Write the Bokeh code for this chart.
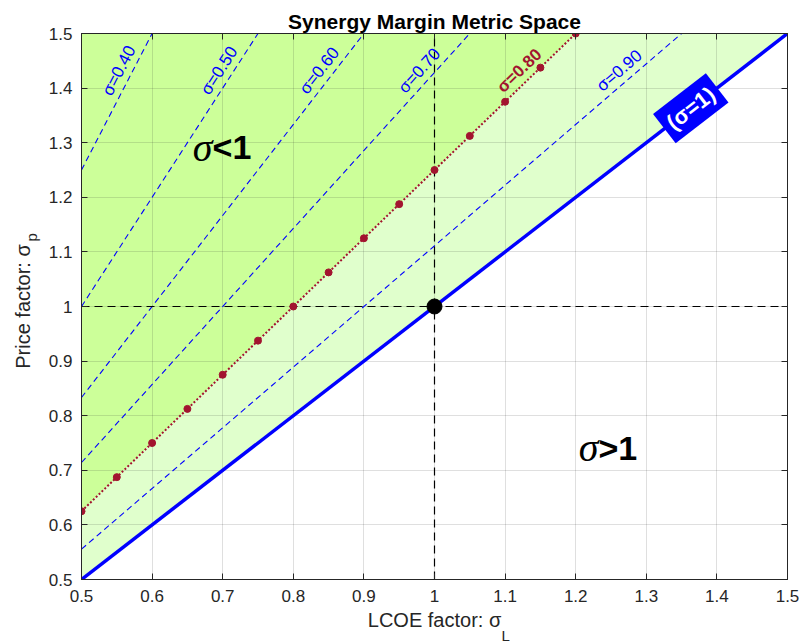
import math
import numpy as np
from bokeh.plotting import figure
from bokeh.models import Range1d, Label, FixedTicker, LinearAxis, CustomJSTickFormatter, Title
from bokeh.embed import file_html
from bokeh.resources import INLINE

# ---------------- data ----------------
sigma_levels = [0.4, 0.5, 0.6, 0.7, 0.8, 0.9]
sigma_level_labels = ["σ=0.40", "σ=0.50", "σ=0.60", "σ=0.70", "σ=0.80", "σ=0.90"]
sigma_highlight = 0.8
sigma_parity = 1.0
L_limits = [0.5, 1.5]
p_limits = [0.5, 1.5]
marker_L = [0.5, 0.55, 0.6, 0.65, 0.7, 0.75, 0.8, 0.85, 0.9, 0.95,
            1.0, 1.05, 1.1, 1.15, 1.2]
ref_point_L = [1.0]
ref_point_p = [1.0]
x_ticks = [0.5, 0.6, 0.7, 0.8, 0.9, 1.0, 1.1, 1.2, 1.3, 1.4, 1.5]
x_tick_labels = ["0.5", "0.6", "0.7", "0.8", "0.9", "1", "1.1", "1.2", "1.3", "1.4", "1.5"]
y_ticks = [0.5, 0.6, 0.7, 0.8, 0.9, 1.0, 1.1, 1.2, 1.3, 1.4, 1.5]
y_tick_labels = ["0.5", "0.6", "0.7", "0.8", "0.9", "1", "1.1", "1.2", "1.3", "1.4", "1.5"]

# ---------------- layout ----------------
W, H = 800, 643
BL, BR, BT, BB = 81, 13, 33, 64
FW, FH = W - BL - BR, H - BT - BB

SANS = "Liberation Sans"
SERIF = "Liberation Serif"
AXC = "#262626"

p = figure(width=W, height=H,
           x_range=Range1d(L_limits[0], L_limits[1]),
           y_range=Range1d(p_limits[0], p_limits[1]),
           output_backend="svg", toolbar_location=None,
           min_border_left=BL, min_border_right=BR,
           min_border_top=BT, min_border_bottom=BB,
           background_fill_color="white", border_fill_color="white")
p.title = Title(text="Synergy Margin Metric Space", align="center",
                text_font=SANS, text_font_size="21px", text_font_style="bold",
                text_color="black", standoff=2)
p.outline_line_color = AXC
p.outline_line_width = 1

xt = FixedTicker(ticks=x_ticks)
yt = FixedTicker(ticks=y_ticks)
p.xaxis.ticker = xt
p.yaxis.ticker = yt
p.xaxis.major_label_overrides = dict(zip(x_ticks, x_tick_labels))
p.yaxis.major_label_overrides = dict(zip(y_ticks, y_tick_labels))
for ax in (p.xaxis[0], p.yaxis[0]):
    ax.major_tick_in = 6
    ax.major_tick_out = 0
    ax.minor_tick_in = 0
    ax.minor_tick_out = 0
    ax.axis_line_color = AXC
    ax.major_tick_line_color = AXC
    ax.major_label_text_color = AXC
    ax.major_label_text_font = SANS
    ax.major_label_text_font_size = "17px"
    ax.axis_label_text_font = SANS
    ax.axis_label_text_font_size = "20px"
    ax.axis_label_text_font_style = "normal"
    ax.axis_label_text_color = AXC
p.xaxis[0].major_label_standoff = 10
p.yaxis[0].major_label_standoff = 9
p.yaxis[0].axis_label = "Price factor: σ"
p.yaxis[0].axis_label_standoff = 12

empty_fmt = CustomJSTickFormatter(code="return '';")
for loc, tk in (("right", yt), ("above", xt)):
    ax = LinearAxis(ticker=tk, formatter=empty_fmt)
    ax.major_tick_in = 6
    ax.major_tick_out = 0
    ax.minor_tick_in = 0
    ax.minor_tick_out = 0
    ax.major_label_standoff = 0
    ax.major_label_text_font_size = "1px"
    ax.axis_line_color = AXC
    ax.major_tick_line_color = AXC
    p.add_layout(ax, loc)

# x-axis label and its subscript as stacked bottom titles
p.add_layout(Title(text="LCOE factor: σ", align="center", standoff=4, vertical_align="bottom",
                   text_font=SANS, text_font_size="20px", text_font_style="normal",
                   text_color=AXC), "below")
p.add_layout(Title(text="L", align="left", offset=420, standoff=-16, vertical_align="bottom",
                   text_font=SANS, text_font_size="15px", text_font_style="normal",
                   text_color=AXC), "below")
# y-axis label subscript
p.add_layout(Title(text="p", align="left", offset=338, standoff=-62, vertical_align="bottom",
                   text_font=SANS, text_font_size="15px", text_font_style="normal",
                   text_color=AXC), "left")

p.xgrid.ticker = xt
p.ygrid.ticker = yt
p.grid.grid_line_color = AXC
p.grid.grid_line_alpha = 0.15
p.grid.grid_line_width = 1


def line_end(sig):
    """Clip p = L/sigma to the plotting box."""
    L0 = L_limits[0]
    L1 = min(L_limits[1], p_limits[1] * sig)
    return L0, L1


# ---------------- shaded regions ----------------
h0, h1 = line_end(sigma_highlight)
u0, u1 = line_end(sigma_parity)
dark_x = [h0, h1, L_limits[0]]
dark_y = [h0 / sigma_highlight, h1 / sigma_highlight, p_limits[1]]
light_x = [u0, u1, h1, h0]
light_y = [u0 / sigma_parity, u1 / sigma_parity, h1 / sigma_highlight, h0 / sigma_highlight]
p.patch(dark_x, dark_y, fill_color="#CCFF99", line_color=None, level="image")
p.patch(light_x, light_y, fill_color="#E0FFCC", line_color=None, level="image")

# ---------------- iso-sigma lines ----------------
for s in sigma_levels:
    if s == sigma_highlight:
        continue
    a, b = line_end(s)
    p.line([a, b], [a / s, b / s], line_color="#0000FF", line_width=1.1, line_dash="6 4")

# reference cross lines
p.line([ref_point_L[0], ref_point_L[0]], p_limits, line_color="black", line_width=1.2, line_dash="8 5")
p.line(L_limits, [ref_point_p[0], ref_point_p[0]], line_color="black", line_width=1.2, line_dash="8 5")

# parity line sigma = 1
p.line([u0, u1], [u0 / sigma_parity, u1 / sigma_parity], line_color="#0000FF", line_width=3.5)

# highlighted sigma = 0.8
DR = "#A2142F"
p.line([h0, h1], [h0 / sigma_highlight, h1 / sigma_highlight], line_color=DR, line_width=2, line_dash="2 2")
mk_L = np.array(marker_L)
p.scatter(mk_L, mk_L / sigma_highlight, size=7, fill_color=DR, line_color=DR)

# reference point
p.scatter(ref_point_L, ref_point_p, size=15, fill_color="black", line_color="black")

# ---------------- line labels ----------------
y_lab = 1.432
d_perp = 12.5
for s, txt in zip(sigma_levels, sigma_level_labels):
    th = math.atan((FH / FW) / s)
    h = d_perp / math.sin(th)
    hl = (s == sigma_highlight)
    p.add_layout(Label(x=y_lab * s, y=y_lab, x_offset=-h, y_offset=0, text=txt,
                       angle=th, text_align="center", text_baseline="middle",
                       text_font=SANS, text_font_size="17px",
                       text_font_style="bold" if hl else "normal",
                       text_color=DR if hl else "#0000FF"))

th1 = math.atan((FH / FW) / sigma_parity)
y_par = 1.363
p.add_layout(Label(x=y_par * sigma_parity, y=y_par, text="(σ=1)", angle=th1,
                   text_align="center", text_baseline="middle",
                   text_font=SANS, text_font_size="22px", text_font_style="bold",
                   text_color="white", background_fill_color="#0000FF",
                   padding=6))

# region labels
for xa, ya, op in ((0.6856, 1.273, "<1"), (1.2323, 0.7234, ">1")):
    p.add_layout(Label(x=xa, y=ya, y_offset=10, text="σ", text_align="right",
                       text_baseline="alphabetic",
                       text_font=SERIF, text_font_style="italic", text_font_size="40px",
                       text_color="black"))
    p.add_layout(Label(x=xa, y=ya, y_offset=10, text=op, text_align="left",
                       text_baseline="alphabetic",
                       text_font=SANS, text_font_style="bold", text_font_size="34px",
                       text_color="black"))

open("out.html", "w").write(file_html(p, INLINE))
